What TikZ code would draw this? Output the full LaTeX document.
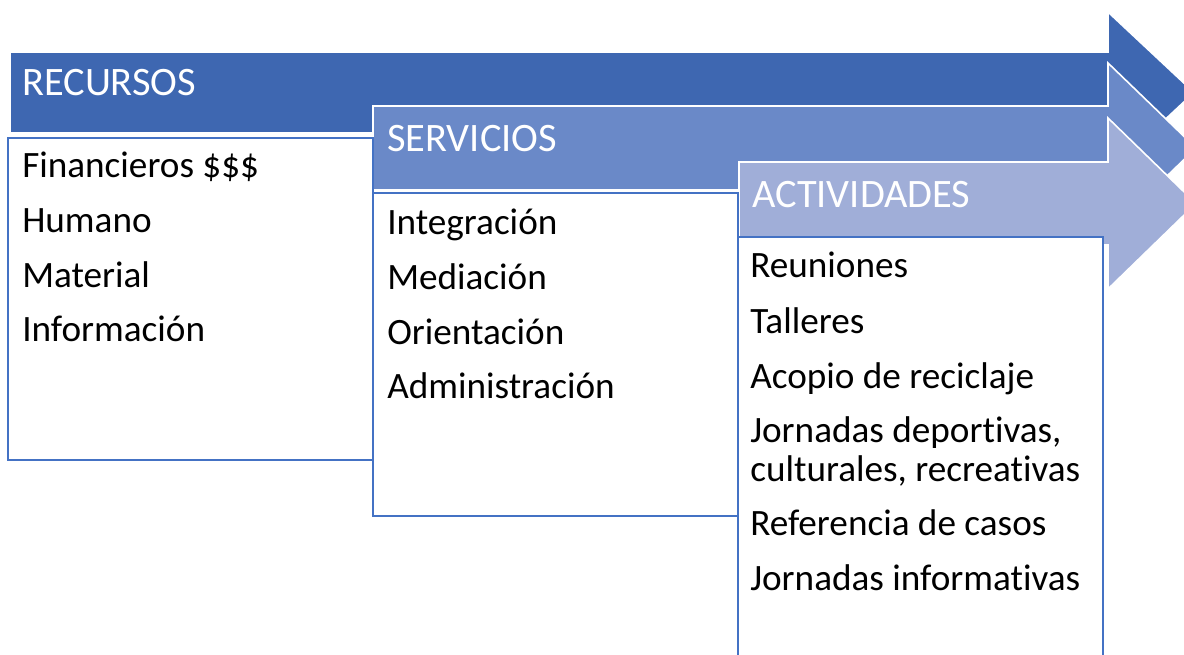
\documentclass[tikz,border=0pt]{standalone}
\usepackage{fontspec}
\setmainfont{Carlito}[Ligatures={NoCommon}]
\definecolor{aone}{HTML}{3E67B1}
\definecolor{atwo}{HTML}{6A89C8}
\definecolor{athree}{HTML}{A0AED8}
\definecolor{boxline}{HTML}{4472C4}
\tikzset{
  arrowshape/.style={draw=white, line width=1.2pt, line join=miter},
  listbox/.style={draw=boxline, fill=white, line width=1.1pt},
  headtext/.style={anchor=base west, inner sep=0pt, text=white, font=\fontsize{30.3}{36}\selectfont},
  itemtext/.style={anchor=base west, inner sep=0pt, text=black, font=\fontsize{27.9}{30}\selectfont},
}
\begin{document}
\begin{tikzpicture}[x=0.75pt,y=-0.75pt]
\useasboundingbox (0,0) rectangle (1184,654);
\clip (0,0) rectangle (1184,654);
% arrows
\fill[white] (0,0) rectangle (1184,654);
\draw[arrowshape, fill=aone] (10,52) -- (1108,52) -- (1108,12) -- (1194,92.5) -- (1108,173) -- (1108,133) -- (10,133) -- cycle;
\draw[arrowshape, fill=atwo] (373,106) -- (1108,106) -- (1108,63) -- (1196,148) -- (1108,233) -- (1108,190) -- (373,190) -- cycle;
\draw[arrowshape, fill=athree] (739,162) -- (1108,162) -- (1108,118) -- (1196,203.5) -- (1108,289) -- (1108,245) -- (739,245) -- cycle;
% boxes
\draw[listbox] (8,138) rectangle (373,460);
\draw[listbox] (373,193) rectangle (738,516);
\draw[listbox] (738,237) rectangle (1103,664);
% headers
\node[headtext] (h1) at (22,95) {RECURSOS};
\node[headtext] (h2) at (387,151) {SERVICIOS};
\node[headtext] (h3) at (752,207) {ACTIVIDADES};
% box 1
\node[itemtext] (r1) at (22,177) {Financieros \$\$\$};
\node[itemtext] (r2) at (22,232) {Humano};
\node[itemtext] (r3) at (22,287) {Material};
\node[itemtext] (r4) at (22,341) {Información};
% box 2
\node[itemtext] (s1) at (387,234) {Integración};
\node[itemtext] (s2) at (387,289) {Mediación};
\node[itemtext] (s3) at (387,344) {Orientación};
\node[itemtext] (s4) at (387,398) {Administración};
% box 3
\node[itemtext] (t1) at (750,277) {Reuniones};
\node[itemtext] (t2) at (750,333) {Talleres};
\node[itemtext] (t3) at (750,388) {Acopio de reciclaje};
\node[itemtext] (t4) at (750,442) {Jornadas deportivas,};
\node[itemtext] (t5) at (750,481) {culturales, recreativas};
\node[itemtext] (t6) at (750,535) {Referencia de casos};
\node[itemtext] (t7) at (750,590) {Jornadas informativas};
\end{tikzpicture}
\end{document}
